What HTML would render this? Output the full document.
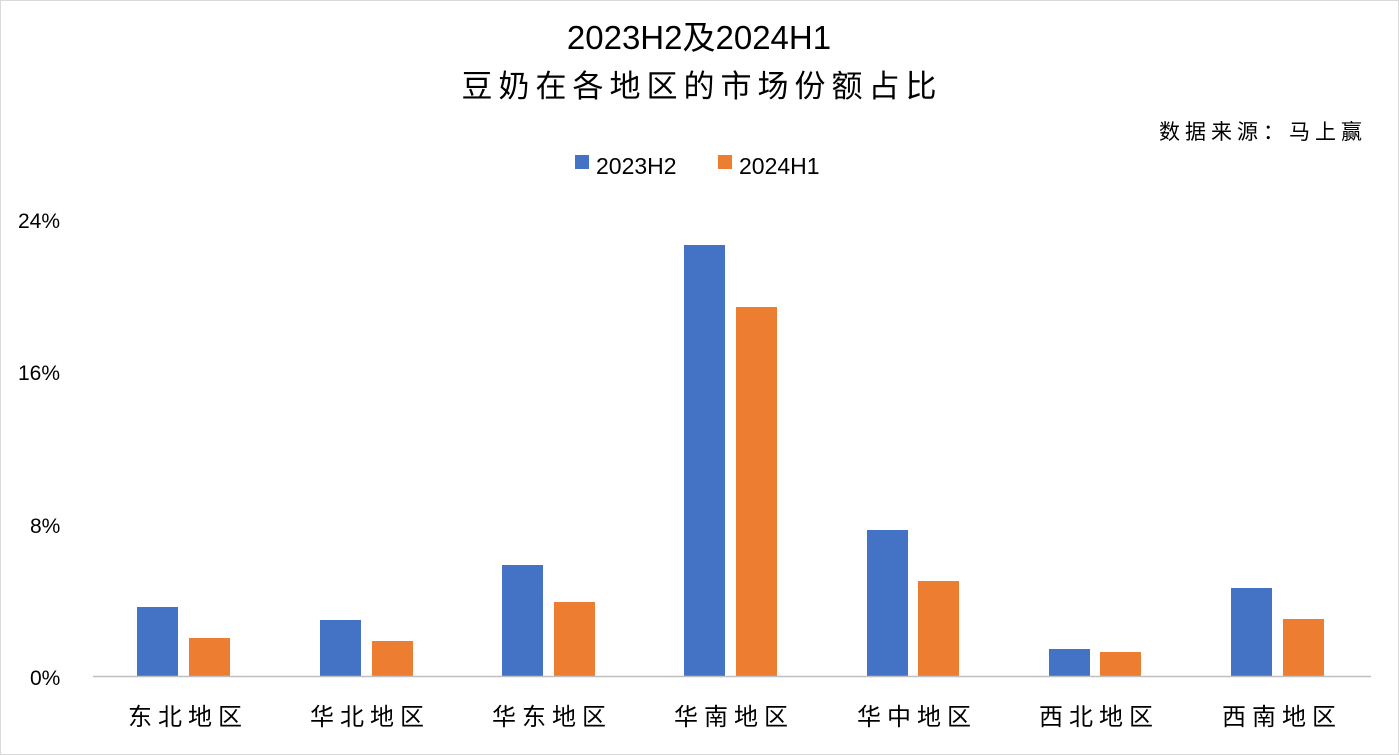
<!DOCTYPE html>
<html><head><meta charset="utf-8"><style>
html,body{margin:0;padding:0;background:#fff;}
svg{display:block;font-family:"Liberation Sans","Noto Sans CJK SC",sans-serif;}
</style></head><body>
<svg width="1399" height="755" viewBox="0 0 1399 755">
<rect x="0.5" y="0.5" width="1398" height="754" fill="#fff" stroke="#d9d9d9"/>
<text x="699" y="49" font-size="33" text-anchor="middle" fill="#000">2023H2及2024H1</text>
<text x="702" y="97" font-size="31" text-anchor="middle" fill="#000" letter-spacing="6">豆奶在各地区的市场份额占比</text>
<text x="1367" y="139" font-size="21" text-anchor="end" fill="#000" letter-spacing="5">数据来源：马上赢</text>
<rect x="575" y="155" width="14" height="14" fill="#4472C4"/>
<text x="596" y="174" font-size="23" fill="#000">2023H2</text>
<rect x="718" y="155" width="14" height="14" fill="#ED7D31"/>
<text x="739" y="174" font-size="23" fill="#000">2024H1</text>
<g font-size="21" fill="#000">
<text x="18" y="228">24%</text>
<text x="18" y="380">16%</text>
<text x="30" y="533">8%</text>
<text x="30" y="685">0%</text>
</g>
<g fill="#4472C4">
<rect x="137" y="607" width="41" height="69"/>
<rect x="320" y="620" width="41" height="56"/>
<rect x="502" y="565" width="41" height="111"/>
<rect x="684" y="245" width="41" height="431"/>
<rect x="867" y="530" width="41" height="146"/>
<rect x="1049" y="649" width="41" height="27"/>
<rect x="1231" y="588" width="41" height="88"/>
</g>
<g fill="#ED7D31">
<rect x="189" y="638" width="41" height="38"/>
<rect x="372" y="641" width="41" height="35"/>
<rect x="554" y="602" width="41" height="74"/>
<rect x="736" y="307" width="41" height="369"/>
<rect x="918" y="581" width="41" height="95"/>
<rect x="1100" y="652" width="41" height="24"/>
<rect x="1283" y="619" width="41" height="57"/>
</g>
<line x1="93" y1="676.5" x2="1371" y2="676.5" stroke="#bfbfbf" stroke-width="1.5"/>
<g font-size="24" text-anchor="middle" fill="#000" letter-spacing="6">
<text x="188" y="725">东北地区</text>
<text x="370" y="725">华北地区</text>
<text x="552" y="725">华东地区</text>
<text x="734" y="725">华南地区</text>
<text x="917" y="725">华中地区</text>
<text x="1099" y="725">西北地区</text>
<text x="1282" y="725">西南地区</text>
</g>
</svg>
</body></html>
